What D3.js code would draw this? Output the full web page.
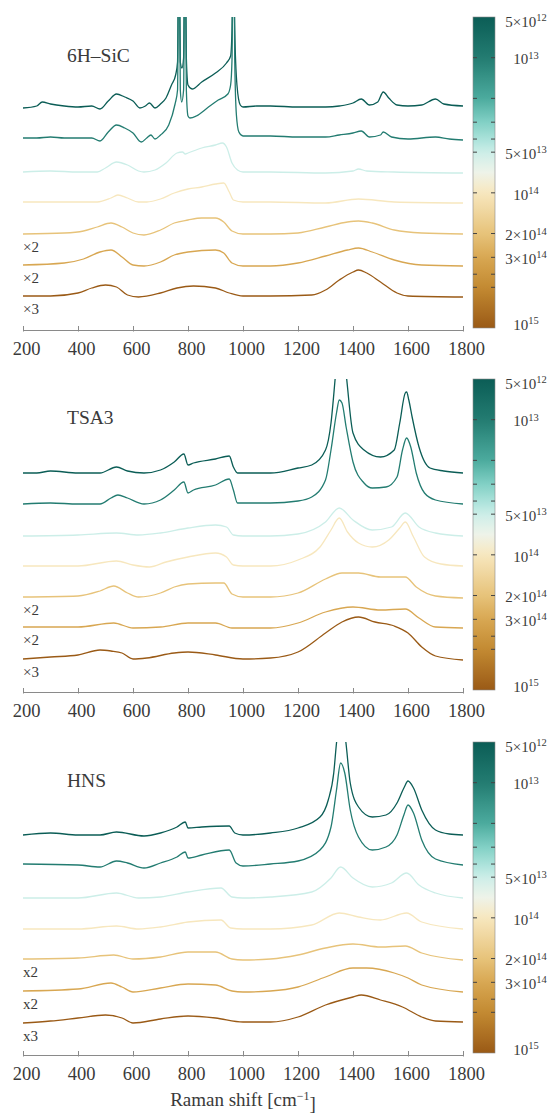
<!DOCTYPE html>
<html><head><meta charset="utf-8">
<script src="https://cdn.jsdelivr.net/npm/d3@7"></script>
<style>
body{margin:0;background:#fff}
svg{display:block}
svg text{font-family:"Liberation Serif","Tinos","Times New Roman","DejaVu Serif","Noto Serif",serif !important;fill:#3a3a3a}
</style>
</head><body>
<svg id="chart" width="551" height="1114"></svg>
<script>
// ---------------- DATA ----------------
const xTicks = [200,400,600,800,1000,1200,1400,1600,1800];
const fluences = [5e12,1e13,5e13,1e14,2e14,3e14,1e15];
const panelTitles = ["6H\u2013SiC","TSA3","HNS"];
const multLabels = [["","","","","\u00d72","\u00d72","\u00d73"],["","","","","\u00d72","\u00d72","\u00d73"],["","","","","x2","x2","x3"]];
const cbTickValues = [1e13,2e13,3e13,4e13,5e13,1e14,2e14,3e14,4e14,5e14];
const cbLabelValues = [5e12,1e13,5e13,1e14,2e14,3e14,1e15];
const cbLabelMant = ["5\u00d710","10","5\u00d710","10","2\u00d710","3\u00d710","10"];
const cbLabelExp = ["12","13","13","14","14","14","15"];
const cbStops = [5e12,1e13,2e13,3e13,4e13,5e13,7e13,1e14,2e14,3e14,5e14,1e15];
const cbColors = ["#0b5d56","#237c71","#4cab9e","#82d0c5","#aae2da","#cceee8","#eef3ea","#f7e7be","#e7c37a","#d8a752","#c38a32","#9a5a16"];

// 6H-SiC spectra [Raman shift, stacked intensity a.u.]
const sic1 = [[200,222],[250,224],[270,228],[300,226],[350,224],[400,223],[450,224],[480,221],[510,229],[540,236],[570,233],[600,229],[625,222],[645,224],[660,227],[680,222],[700,226],[720,232],[740,245],[755,255],[762,268],[767,420],[772,268],[778,262],[784,272],[789,420],[794,272],[800,245],[815,241],[850,248],[900,257],[940,267],[955,274],[960,300],[965,420],[970,300],[978,245],[990,225],[1000,223],[1050,224],[1100,224],[1200,223],[1300,223],[1350,224],[1400,227],[1430,231],[1460,225],[1490,228],[1510,238],[1530,232],[1560,225],[1600,224],[1650,225],[1700,231],[1730,226],[1800,224]];
const sic2 = [[200,192],[250,192],[300,193],[350,192],[400,192],[450,192],[480,189],[510,198],[540,205],[570,202],[600,197],[630,188],[650,192],[665,195],[680,191],[700,195],[730,205],[753,226],[762,240],[767,420],[772,240],[777,228],[784,240],[789,420],[794,240],[800,214],[807,212],[830,214],[870,222],[910,230],[945,236],[955,245],[960,270],[965,420],[970,270],[976,215],[985,198],[1000,194],[1100,194],[1200,193],[1300,193],[1350,195],[1400,197],[1430,199],[1460,193],[1500,195],[1510,198],[1540,193],[1600,191],[1700,193],[1750,191],[1800,190]];
const sic3 = [[200,158],[300,159],[400,158],[470,158],[500,162],[540,168],[580,165],[620,159],[640,158],[680,160],[720,167],[760,177],[780,178],[790,176],[800,177],[850,182],[900,185],[925,187],[940,183],[960,167],[980,160],[1000,158],[1100,158],[1300,157],[1400,159],[1420,161],[1450,159],[1550,158],[1800,157]];
const sic4 = [[200,128],[400,128],[470,128],[520,132],[545,135],[580,132],[620,128],[650,128],[700,131],[750,137],[800,141],[850,143],[900,146],[930,147],[950,138],[965,130],[1000,128],[1100,128],[1300,127],[1420,131],[1550,128],[1800,127]];
const sic5 = [[200,96],[350,97],[420,99],[470,103],[520,107],[560,103],[600,97],[640,95],[700,100],[750,107],[800,110],[850,112],[900,112],[930,108],[960,99],[1000,96],[1100,96],[1200,97],[1300,103],[1380,108],[1420,109],[1470,107],[1550,100],[1650,97],[1800,96]];
const sic6 = [[200,65],[350,67],[420,71],[480,78],[520,80],[560,73],[600,65],[640,64],[700,68],[750,75],[800,78],[900,80],[930,77],[960,67],[1000,64],[1100,64],[1200,67],[1300,74],[1380,80],[1420,82],[1470,78],[1550,70],[1650,65],[1800,64]];
const sic7 = [[200,34],[300,34],[400,37],[450,42],[500,45],[540,43],[580,35],[620,33],[700,37],[760,42],[820,44],[900,42],[950,37],[1000,34],[1100,34],[1250,35],[1300,40],[1350,50],[1400,58],[1420,60],[1450,57],[1500,48],[1560,37],[1600,34],[1800,33]];

// TSA3 spectra
const tsa1 = [[200,219],[250,219],[300,221],[400,219],[480,219],[540,225],[580,221],[640,219],[700,222],[750,230],[785,238],[800,227],[820,229],[900,233],[950,236],[965,225],[980,219],[1000,219],[1100,219],[1200,224],[1250,227],[1300,242],[1320,269],[1335,313],[1345,345],[1355,355],[1365,345],[1377,313],[1400,259],[1440,242],[1500,235],[1550,242],[1570,269],[1590,299],[1595,300],[1603,292],[1615,275],[1640,245],[1680,224],[1730,221],[1800,219]];
const tsa2 = [[200,188],[300,189],[400,188],[480,188],[520,194],[545,197],[580,194],[640,188],[700,192],[750,202],[785,210],[800,199],[820,202],[900,207],[950,213],[965,202],[980,189],[1000,189],[1100,189],[1200,191],[1250,195],[1300,212],[1320,242],[1340,279],[1350,292],[1360,289],[1375,265],[1400,230],[1440,209],[1470,204],[1520,205],[1560,215],[1580,242],[1595,254],[1610,245],[1630,219],[1660,199],[1700,192],[1800,188]];
const tsa3 = [[200,156],[400,157],[540,159],[620,157],[700,159],[800,164],[900,167],[940,165],[965,157],[1000,156],[1100,156],[1200,158],[1300,170],[1350,184],[1400,172],[1470,162],[1540,165],[1590,179],[1640,165],[1700,159],[1800,156]];
const tsa4 = [[200,126],[400,126],[540,131],[600,127],[660,125],[720,130],[800,135],[900,139],[940,135],[965,127],[1000,126],[1100,126],[1200,132],[1280,145],[1320,162],[1350,174],[1380,160],[1420,149],[1470,145],[1530,152],[1570,164],[1590,170],[1620,155],[1660,135],[1720,128],[1800,126]];
const tsa5 = [[200,95],[400,96],[480,101],[530,106],[580,99],[620,95],[700,99],[750,105],[800,108],[900,109],[930,109],[960,98],[1000,95],[1100,95],[1200,99],[1300,113],[1360,119],[1420,119],[1500,115],[1590,115],[1630,105],[1700,96],[1800,94]];
const tsa6 = [[200,65],[400,65],[530,69],[600,64],[700,65],[800,69],[900,69],[960,64],[1000,64],[1100,64],[1200,69],[1300,80],[1400,85],[1500,82],[1590,83],[1640,74],[1700,65],[1800,64]];
const tsa7 = [[200,33],[300,35],[400,37],[480,42],[520,41],[560,39],[600,33],[650,34],[750,39],[800,40],[900,37],[1000,33],[1100,34],[1200,40],[1300,59],[1360,70],[1420,75],[1480,70],[1550,66],[1600,59],[1650,45],[1700,36],[1800,32]];

// HNS spectra
const hns1 = [[200,220],[300,222],[400,220],[480,220],[540,223],[640,219],[700,222],[760,228],[790,233],[800,227],[850,228],[950,229],[970,222],[1000,220],[1100,222],[1200,227],[1280,238],[1310,255],[1330,282],[1340,312],[1350,335],[1357,340],[1365,332],[1374,313],[1390,272],[1420,248],[1470,238],[1520,240],[1560,252],[1585,267],[1600,274],[1620,267],[1650,245],[1700,225],[1750,221],[1800,220]];
const hns2 = [[200,191],[400,190],[480,188],[540,194],[580,192],[640,187],[700,192],[760,198],[790,203],[800,197],[850,200],[950,205],[975,192],[1000,189],[1100,191],[1200,194],[1280,205],[1320,228],[1340,265],[1355,292],[1370,282],[1390,245],[1420,218],[1470,205],[1520,208],[1560,220],[1585,240],[1600,250],[1620,242],[1650,215],[1700,196],[1800,190]];
const hns3 = [[200,157],[400,157],[540,162],[620,157],[700,158],[800,163],[920,167],[960,158],[1000,157],[1100,158],[1250,163],[1320,177],[1355,188],[1400,177],[1470,168],[1540,172],[1595,182],[1640,170],[1700,162],[1800,157]];
const hns4 = [[200,126],[400,126],[540,129],[620,126],[700,128],[800,133],[920,135],[955,127],[1000,126],[1100,126],[1250,130],[1350,142],[1420,138],[1500,135],[1595,142],[1650,133],[1800,126]];
const hns5 = [[200,96],[400,97],[530,100],[600,96],[700,98],[800,103],[900,103],[960,96],[1000,95],[1100,96],[1200,100],[1300,107],[1400,111],[1500,108],[1590,109],[1650,102],[1800,95]];
const hns6 = [[200,64],[400,66],[520,72],[560,68],[600,63],[700,67],[800,71],[900,70],[960,64],[1000,63],[1100,64],[1200,68],[1300,78],[1400,87],[1450,87],[1550,82],[1600,77],[1650,70],[1800,63]];
const hns7 = [[200,32],[300,34],[400,37],[500,40],[560,37],[600,32],[700,36],[800,39],[900,37],[1000,33],[1100,33],[1200,38],[1300,50],[1400,58],[1430,60],[1500,55],[1580,48],[1650,38],[1700,34],[1800,33]];

const panelSeries = [[sic1,sic2,sic3,sic4,sic5,sic6,sic7],[tsa1,tsa2,tsa3,tsa4,tsa5,tsa6,tsa7],[hns1,hns2,hns3,hns4,hns5,hns6,hns7]];

// ---------------- LAYOUT ----------------
const FONT = "'Liberation Serif', Tinos, 'Times New Roman', 'DejaVu Serif', 'Noto Serif', serif";
const svg = d3.select("#chart");
const left = 23, right = 463;
const panelTop = [17, 379, 742];
const plotH = 313;
const cbX = 473, cbW = 22, cbH = 311;

const x = d3.scaleLinear().domain([200,1800]).range([left,right]);
const color = d3.scaleLog().domain(cbStops).range(cbColors).interpolate(d3.interpolateRgb);

const defs = svg.append("defs");
const grad = defs.append("linearGradient").attr("id","cbgrad").attr("x1",0).attr("x2",0).attr("y1",0).attr("y2",1);
const lmin = Math.log10(5e12), lmax = 15;
d3.range(0,1.0001,0.02).forEach(t=>{
  grad.append("stop").attr("offset",t).attr("stop-color",color(Math.pow(10,lmin+t*(lmax-lmin))));
});

panelSeries.forEach((series,p)=>{
  const top = panelTop[p];
  const axisY = top + plotH;
  const y = d3.scaleLinear().domain([0,313]).range([axisY, top]);
  const g = svg.append("g").attr("font-family",FONT);

  defs.append("clipPath").attr("id","clip"+p).append("rect")
    .attr("x",left-2).attr("y",top).attr("width",right-left+4).attr("height",plotH+2);

  const ax = g.append("g").attr("transform",`translate(0,${axisY})`)
    .call(d3.axisBottom(x).tickValues(xTicks).tickSizeInner(-4).tickSizeOuter(0).tickPadding(12).tickFormat(d3.format("d")));
  ax.attr("font-family",FONT);
  ax.select(".domain").attr("stroke","#8a8a8a");
  ax.selectAll(".tick line").attr("stroke","#8a8a8a").attr("y2",-4).attr("y1",1.5);
  ax.selectAll(".tick text").attr("font-size",18.5).attr("font-family",FONT).attr("fill","#3a3a3a").attr("dx",3);

  const line = d3.line().x(d=>x(d[0])).y(d=>y(d[1])).curve(d3.curveMonotoneX);
  const cg = g.append("g").attr("clip-path",`url(#clip${p})`);
  series.forEach((s,i)=>{
    cg.append("path").attr("d",line(s)).attr("fill","none")
      .attr("stroke",color(fluences[i])).attr("stroke-width",1.3).attr("stroke-linejoin","round");
  });

  series.forEach((s,i)=>{
    const lab = multLabels[p][i];
    if(!lab) return;
    g.append("text").attr("x",left).attr("y",y(s[0][1]-13)).attr("dy","0.35em")
      .attr("font-size",15).attr("font-family",FONT).text(lab);
  });

  g.append("text").attr("x",67).attr("y",top+45).attr("font-size",19.5).attr("font-family",FONT).text(panelTitles[p]);

  const cy = d3.scaleLog().domain([5e12,1e15]).range([top, top+cbH]);
  g.append("rect").attr("x",cbX).attr("y",top).attr("width",cbW).attr("height",cbH)
    .attr("fill","url(#cbgrad)").attr("stroke","#8a8a8a").attr("stroke-width",0.6);
  cbTickValues.forEach(v=>{
    g.append("line").attr("x1",cbX).attr("x2",cbX+4).attr("y1",cy(v)).attr("y2",cy(v)).attr("stroke","#444").attr("stroke-width",1);
    g.append("line").attr("x1",cbX+cbW-4).attr("x2",cbX+cbW).attr("y1",cy(v)).attr("y2",cy(v)).attr("stroke","#444").attr("stroke-width",1);
  });
  cbLabelValues.forEach((v,k)=>{
    let yy = cy(v);
    yy = Math.max(top+3, Math.min(top+cbH-5, yy));
    const t = g.append("text").attr("x",526).attr("y",yy).attr("dy","0.45em").attr("text-anchor","middle")
      .attr("font-size",15).attr("font-family",FONT);
    t.append("tspan").text(cbLabelMant[k]);
    t.append("tspan").attr("dy","-0.55em").attr("font-size",10.5).text(cbLabelExp[k]);
  });
});

const xl = svg.append("text").attr("x",(left+right)/2).attr("y",1106).attr("text-anchor","middle")
  .attr("font-size",19).attr("font-family",FONT);
xl.append("tspan").text("Raman shift [cm");
xl.append("tspan").attr("dy","-0.5em").attr("font-size",12).text("\u22121");
xl.append("tspan").attr("dy","0.5em").text("]");
</script>
</body></html>
